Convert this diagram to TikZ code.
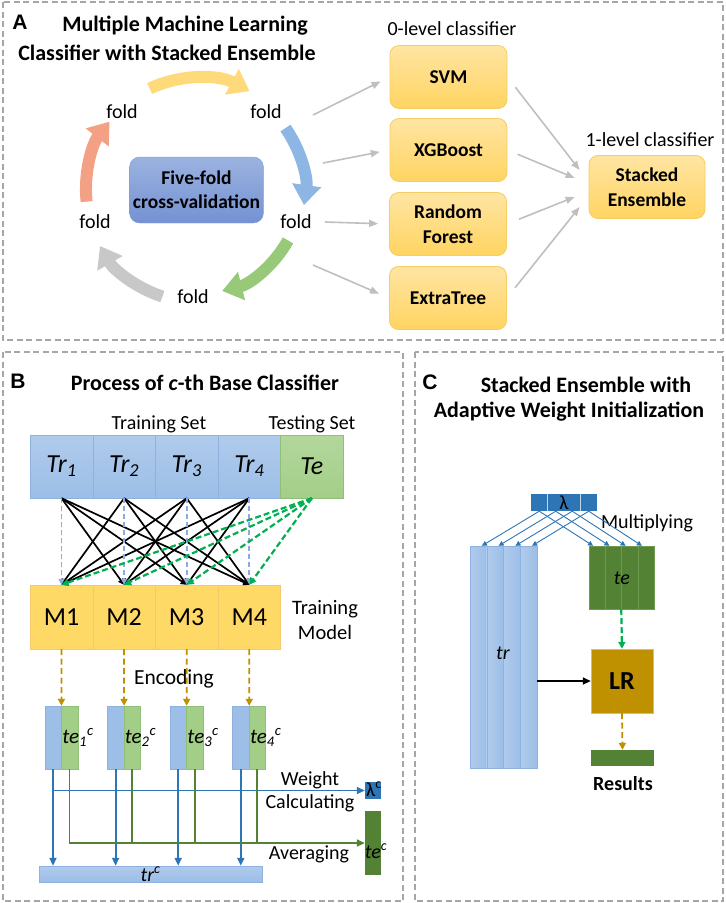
\documentclass[tikz,border=0pt]{standalone}
\usepackage{amsmath}
\usepackage{fontspec}
\setmainfont{Carlito}
\newfontfamily\letterfont{Liberation Sans}
\usetikzlibrary{arrows.meta,calc}

\newcommand{\fsz}[2]{\fontsize{#1}{#2}\selectfont}

\definecolor{panelgray}{HTML}{A6A6A6}
\definecolor{feedgray}{HTML}{BFBFBF}
\definecolor{foldyellow}{HTML}{FFDA7A}
\definecolor{foldblue}{HTML}{8DB6E4}
\definecolor{foldgreen}{HTML}{97C978}
\definecolor{foldgray}{HTML}{C8C8C8}
\definecolor{foldorange}{HTML}{F3A084}
\definecolor{cvtop}{HTML}{9AB3E0}
\definecolor{cvbot}{HTML}{7591D2}
\definecolor{cvedge}{HTML}{7F9BD6}
\definecolor{clstop}{HTML}{FFE5A3}
\definecolor{clsbot}{HTML}{FFD461}
\definecolor{clsedge}{HTML}{F5CD62}
\definecolor{trtop}{HTML}{B0CBEC}
\definecolor{trbot}{HTML}{9CBEE7}
\definecolor{tredge}{HTML}{8EB2E0}
\definecolor{tetop}{HTML}{B3D79C}
\definecolor{tebot}{HTML}{A3CE88}
\definecolor{teedge}{HTML}{8FC078}
\definecolor{mfill}{HTML}{FFD966}
\definecolor{medge}{HTML}{F4C86B}
\definecolor{selfblue}{HTML}{8FAADC}
\definecolor{testgreen}{HTML}{00B050}
\definecolor{gold}{HTML}{BF9000}
\definecolor{goldedge}{HTML}{FFC000}
\definecolor{flowblue}{HTML}{2E75B6}
\definecolor{flowgreen}{HTML}{548235}
\definecolor{stripegreen}{HTML}{6E9A50}

\tikzset{
  panel/.style={draw=panelgray, line width=1.2pt, dash pattern=on 6pt off 3.5pt},
  letter/.style={font=\letterfont\bfseries\fsz{21}{24}},
  heading/.style={font=\bfseries\fsz{22}{27}},
  plain/.style={font=\fsz{20}{24}, align=center},
  fold/.style={font=\fsz{20}{22}},
  foldarc/.style={line width=12pt, -{Triangle[length=20pt,width=28pt]}},
  cvbox/.style={rounded corners=10pt, draw=cvedge, top color=cvtop, bottom color=cvbot,
    minimum width=133pt, minimum height=66pt, align=center, font=\bfseries\fsz{19.5}{24}},
  clsbox/.style={rounded corners=9pt, draw=clsedge, line width=0.8pt, top color=clstop,
    bottom color=clsbot, minimum width=117pt, minimum height=63pt, align=center,
    font=\bfseries\fsz{19.5}{24.5}},
  feed/.style={draw=feedgray, line width=1.6pt, -{Triangle[length=9pt,width=7pt]}},
  trcell/.style={draw=tredge, top color=trtop, bottom color=trbot, minimum width=62.6pt,
    minimum height=63pt, inner sep=0pt, font=\itshape\fsz{26}{30}},
  tecell/.style={trcell, draw=teedge, top color=tetop, bottom color=tebot},
  mcell/.style={draw=medge, fill=mfill, minimum width=62.6pt, minimum height=64pt,
    inner sep=0pt, font=\fsz{26}{30}},
  cross/.style={black, line width=1.7pt, -{Triangle[length=6pt,width=6pt]}},
  selfline/.style={draw=selfblue, line width=1.8pt, dash pattern=on 5pt off 3pt,
    -{Triangle[length=6pt,width=6pt]}},
  testline/.style={draw=testgreen, line width=2.2pt, dash pattern=on 6pt off 3pt,
    -{Triangle[length=7pt,width=7pt]}},
  encline/.style={draw=gold, line width=1.8pt, dash pattern=on 6pt off 3.5pt,
    -{Triangle[length=7pt,width=7pt]}},
  bpart/.style={draw=tredge, fill=trbot, minimum width=16.5pt, minimum height=63pt, inner sep=0pt},
  gpart/.style={draw=teedge, fill=tebot, minimum width=16.5pt, minimum height=63pt, inner sep=0pt},
  telabel/.style={anchor=west, inner sep=1pt, font=\itshape\fsz{21}{26}},
  blueflow/.style={draw=flowblue, line width=1.8pt},
  greenflow/.style={draw=flowgreen, line width=1.8pt},
  tipped/.style={-{Triangle[length=8pt,width=7pt]}},
  trstripe/.style={draw=tredge, left color=trtop, right color=trbot, minimum width=16.75pt,
    minimum height=222pt, inner sep=0pt},
  testripe/.style={draw=stripegreen, fill=flowgreen, minimum width=16.25pt,
    minimum height=63pt, inner sep=0pt},
  mult/.style={draw=flowblue, line width=0.9pt, -{Triangle[length=5pt,width=5pt]}},
}

\begin{document}
\begin{tikzpicture}[x=1pt,y=-1pt]
\useasboundingbox (0,0) rectangle (726,903);

% Panel frames
\draw[panel] (3,2) rectangle (723,340);
\draw[panel] (3,352) rectangle (403,901);
\draw[panel] (415,352) rectangle (723,901);

%%%% Panel A: stacked ensemble of classifiers
\node[letter] (letA) at (20,22) {A};
\node[heading] (titleA1) at (185,26) {Multiple Machine Learning};
\node[heading] (titleA2) at (167,53) {Classifier with Stacked Ensemble};

% Folds round the cross-validation box
\node[cvbox] (cv) at (196.5,190) {Five-fold\\cross-validation};
\node[fold] (fa) at (122,112) {fold};
\node[fold] (fb) at (266,112) {fold};
\node[fold] (fc) at (296,222) {fold};
\node[fold] (fd) at (193,297) {fold};
\node[fold] (fe) at (95,222) {fold};

% Curved arrows between folds
\begin{scope}[shift={(197,190)}, y=1pt]
\draw[foldarc, draw=foldyellow] (115:112) arc[start angle=115, end angle=62, radius=112pt];
\draw[foldarc, draw=foldblue] (35:108) arc[start angle=35, end angle=-8, radius=108pt];
\draw[foldarc, draw=foldgreen] (-29:104) arc[start angle=-29, end angle=-76, radius=104pt];
\draw[foldarc, draw=foldgray] (-108:112) arc[start angle=-108, end angle=-150, radius=112pt];
\draw[foldarc, draw=foldorange] (186:111) arc[start angle=186, end angle=142, radius=111pt];
\end{scope}

% 0-level and 1-level classifiers
\node[plain] (lvl0) at (452,29) {0-level classifier};
\node[clsbox] (svm) at (448.5,77) {SVM};
\node[clsbox] (xgb) at (448.5,150) {XGBoost};
\node[clsbox] (rf) at (448,224) {Random\\Forest};
\node[clsbox] (et) at (448,298) {ExtraTree};
\node[plain] (lvl1) at (650,140) {1-level classifier};
\node[clsbox, minimum width=116pt] (stk) at (647,187) {Stacked\\Ensemble};

% Feeds from folds to classifiers
\coordinate (o1) at (313,115);
\coordinate (o2) at (323,163);
\coordinate (o3) at (325,222);
\coordinate (o4) at (313,265);
\draw[feed, shorten >=10pt] (o1) -- (svm.west);
\draw[feed, shorten >=10pt] (o2) -- (xgb.west);
\draw[feed, shorten >=11pt] (o3) -- (rf.west);
\draw[feed, shorten >=11pt] (o4) -- (et.west);

% Feeds into the stacked ensemble
\draw[feed, shorten <=13pt] (svm.east) -- ([xshift=-9pt,yshift=17pt]stk.west);
\draw[feed, shorten <=11pt] (xgb.east) -- ([xshift=-14pt,yshift=9pt]stk.west);
\draw[feed, shorten <=13pt] (rf.east) -- ([xshift=-14pt,yshift=-10pt]stk.west);
\draw[feed, shorten <=13pt] (et.east) -- ([xshift=-9pt,yshift=-20pt]stk.west);

%%%% Panel B: c-th base classifier
\node[letter] (letB) at (18,381) {B};
\node[heading] (titleB) at (205,383) {Process of \textit{c}-th Base Classifier};
\node[plain] (trainset) at (159,424) {Training Set};
\node[plain] (testset) at (312,424) {Testing Set};

% Folds of the data
\node[trcell] (tr1) at (61.5,466.5) {Tr\textsubscript{1}};
\node[trcell] (tr2) at (124.1,466.5) {Tr\textsubscript{2}};
\node[trcell] (tr3) at (186.7,466.5) {Tr\textsubscript{3}};
\node[trcell] (tr4) at (249.3,466.5) {Tr\textsubscript{4}};
\node[tecell] (te) at (311.9,466.5) {Te};

% Trained models
\node[mcell] (m1) at (61.5,617) {M1};
\node[mcell] (m2) at (124.1,617) {M2};
\node[mcell] (m3) at (186.7,617) {M3};
\node[mcell] (m4) at (249.3,617) {M4};
\node[plain, font=\fsz{20.5}{25}] (trainmodel) at (325,620.5) {Training\\Model};

% Training folds to models
\draw[cross] (tr1.south) -- (m2.north);
\draw[cross] (tr1.south) -- (m3.north);
\draw[cross] (tr1.south) -- (m4.north);
\draw[cross] (tr2.south) -- (m1.north);
\draw[cross] (tr2.south) -- (m3.north);
\draw[cross] (tr2.south) -- (m4.north);
\draw[cross] (tr3.south) -- (m1.north);
\draw[cross] (tr3.south) -- (m2.north);
\draw[cross] (tr3.south) -- (m4.north);
\draw[cross] (tr4.south) -- (m1.north);
\draw[cross] (tr4.south) -- (m2.north);
\draw[cross] (tr4.south) -- (m3.north);
\draw[selfline] (tr1.south) -- (m1.north);
\draw[selfline] (tr2.south) -- (m2.north);
\draw[selfline] (tr3.south) -- (m3.north);
\draw[selfline] (tr4.south) -- (m4.north);
\draw[testline] (te.south) -- (m1.north);
\draw[testline] (te.south) -- (m2.north);
\draw[testline] (te.south) -- (m3.north);
\draw[testline] (te.south) -- (m4.north);

% Encoded outputs
\node[bpart] (teb1) at (53,737.5) {};
\node[gpart] (teg1) at (69.5,737.5) {};
\node[bpart] (teb2) at (115.6,737.5) {};
\node[gpart] (teg2) at (132.1,737.5) {};
\node[bpart] (teb3) at (178.2,737.5) {};
\node[gpart] (teg3) at (194.7,737.5) {};
\node[bpart] (teb4) at (240.8,737.5) {};
\node[gpart] (teg4) at (257.3,737.5) {};
\node[telabel] at (teg1.west) {te\textsubscript{1}\textsuperscript{c}};
\node[telabel] at (teg2.west) {te\textsubscript{2}\textsuperscript{c}};
\node[telabel] at (teg3.west) {te\textsubscript{3}\textsuperscript{c}};
\node[telabel] at (teg4.west) {te\textsubscript{4}\textsuperscript{c}};
\draw[encline] (m1.south) -- (teb1.north east);
\draw[encline] (m2.south) -- (teb2.north east);
\draw[encline] (m3.south) -- (teb3.north east);
\draw[encline] (m4.south) -- (teb4.north east);
\node[plain, font=\fsz{21.5}{25}] (encoding) at (174,679) {Encoding};

% Weight and average outputs
\node[fill=flowblue, minimum width=16pt, minimum height=17pt, inner sep=0pt] (lamc) at (373,790.5) {};
\node[font=\fsz{20}{24}] at (374,789) {λ\textsuperscript{c}};
\node[fill=flowgreen, minimum width=16pt, minimum height=64pt, inner sep=0pt] (tec) at (373,843) {};
\node[font=\itshape\fsz{20}{24}] at (376,851) {te\textsuperscript{c}};
\node[draw=tredge, top color=trtop, bottom color=trbot, minimum width=223pt, minimum height=16pt,
  inner sep=0pt, font=\itshape\fsz{20}{24}] (trc) at (150.5,874) {tr\textsuperscript{c}};
\node[plain, font=\fsz{20}{23}] (weight) at (310,791.5) {Weight\\Calculating};
\node[plain] (averaging) at (309,854) {Averaging};

% Blue paths to tr^c and lambda^c
\draw[blueflow, tipped] (teb1.south) -- (teb1.south |- trc.north);
\draw[blueflow, tipped] (teb2.south) -- (teb2.south |- trc.north);
\draw[blueflow, tipped] (teb3.south) -- (teb3.south |- trc.north);
\draw[blueflow, tipped] (teb4.south) -- (teb4.south |- trc.north);
\draw[blueflow, tipped] (teb1.south |- lamc.west) -- (lamc.west);

% Green paths to te^c
\draw[greenflow, tipped] (teg1.south) |- (tec.west);
\draw[greenflow] (teg2.south) -- (teg2.south |- tec.west);
\draw[greenflow] (teg3.south) -- (teg3.south |- tec.west);
\draw[greenflow] (teg4.south) -- (teg4.south |- tec.west);

%%%% Panel C: adaptive weight initialization
\node[letter] (letC) at (430,382) {C};
\node[heading] (titleC1) at (586,385) {Stacked Ensemble with};
\node[heading] (titleC2) at (569,412) {Adaptive Weight Initialization};

% Weight vector
\node[fill=flowblue, minimum width=66pt, minimum height=17pt, inner sep=0pt,
  font=\fsz{20}{24}] (lam) at (564,502.5) {λ};
\draw[draw=white!70!flowblue, line width=0.8pt] ([xshift=-16.5pt]lam.north) -- ([xshift=-16.5pt]lam.south);
\draw[draw=white!70!flowblue, line width=0.8pt] ([xshift=16.5pt]lam.north) -- ([xshift=16.5pt]lam.south);
\node[plain] (multiplying) at (647,523) {Multiplying};

% Stacked training and testing encodings
\node[trstripe] (trs1) at (478.4,657) {};
\node[trstripe] (trs2) at (495.1,657) {};
\node[trstripe] (trs3) at (511.9,657) {};
\node[trstripe] (trs4) at (528.6,657) {};
\node[font=\itshape\fsz{20}{24}] (trlbl) at (503,653) {tr};
\node[testripe] (tes1) at (597.1,577.5) {};
\node[testripe] (tes2) at (613.4,577.5) {};
\node[testripe] (tes3) at (629.6,577.5) {};
\node[testripe] (tes4) at (645.9,577.5) {};
\node[font=\itshape\fsz{20}{24}] (telbl) at (622,578) {te};

% Multiplying by the weights
\coordinate (l1) at ([xshift=-24.75pt]lam.south);
\coordinate (l2) at ([xshift=-8.25pt]lam.south);
\coordinate (l3) at ([xshift=8.25pt]lam.south);
\coordinate (l4) at ([xshift=24.75pt]lam.south);
\draw[mult] (l1) -- ([xshift=3.5pt]trs1.north);
\draw[mult] (l2) -- ([xshift=3.5pt]trs2.north);
\draw[mult] (l3) -- ([xshift=3.5pt]trs3.north);
\draw[mult] (l4) -- ([xshift=3.5pt]trs4.north);
\draw[mult] (l1) -- ([xshift=-4pt]tes1.north);
\draw[mult] (l2) -- ([xshift=-4pt]tes2.north);
\draw[mult] (l3) -- ([xshift=-4pt]tes3.north);
\draw[mult] (l4) -- ([xshift=-4pt]tes4.north);

% Logistic regression and results
\node[draw=goldedge, fill=gold, minimum width=62pt, minimum height=64pt, inner sep=0pt,
  font=\bfseries\fsz{26}{30}] (lr) at (622,681) {LR};
\node[fill=flowgreen, minimum width=63pt, minimum height=16pt, inner sep=0pt] (res) at (622.5,758) {};
\node[font=\bfseries\fsz{20}{24}] (reslbl) at (623,784) {Results};
\draw[testline] (tes3.south west) -- (lr.north);
\draw[black, line width=1.6pt, tipped] (trs4.east |- lr.west) -- (lr.west);
\draw[encline] (lr.south) -- (res.north);
\end{tikzpicture}
\end{document}
